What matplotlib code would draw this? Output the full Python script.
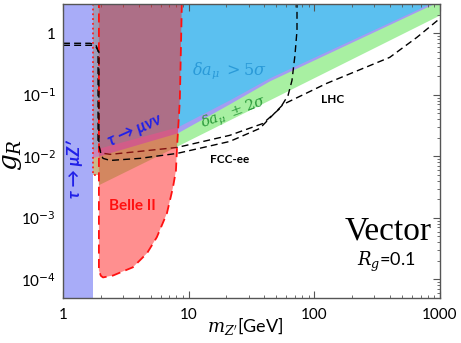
import numpy as np
import matplotlib
matplotlib.use('Agg')
import matplotlib.pyplot as plt

plt.rcParams['font.family'] = ['Lato', 'DejaVu Sans']
plt.rcParams['mathtext.fontset'] = 'dejavuserif'

########## Data ##########
# FCC-ee projection (dashed)
m_fcc = [1.0, 1.64, 1.83, 1.90, 1.90, 1.97, 2.12, 2.37, 4.1, 8.1, 21.2, 39.0, 53.3, 61.8, 66.4, 70.1, 72.8, 72.8]
g_fcc = [0.69, 0.69, 0.64, 0.53, 0.018, 0.0125, 0.0112, 0.0108, 0.0121, 0.014, 0.022, 0.0343, 0.0604, 0.0982, 0.172, 0.439, 1.12, 4.0]

# LHC projection (dashed)
m_lhc = [1.0, 1.70, 1.83, 1.93, 1.93, 2.01, 2.08, 2.37, 4.1, 8.1, 21.2, 36.8, 56.4, 125.5, 398, 655, 1000]
g_lhc = [0.64, 0.64, 0.60, 0.50, 0.015, 0.0108, 0.0093, 0.0086, 0.0093, 0.0112, 0.0175, 0.0285, 0.070, 0.154, 0.407, 0.861, 1.75]

# Belle II reach
m_belle = [1.93, 1.93, 2.0, 2.08, 2.5, 3.6, 4.66, 5.58, 6.71, 7.49, 7.92, 8.08, 8.5, 8.85]
g_belle = [4.0, 1.4e-4, 1.15e-4, 1.08e-4, 1.16e-4, 1.58e-4, 2.67e-4, 4.87e-4, 1.19e-3, 3.1e-3, 5.9e-3, 0.014, 0.08, 4.0]

# delta a_mu > 5 sigma (lower edge)
m_5sig = [1.72, 8.2, 21.3, 44.4, 831, 1000]
g_5sig = [0.0125, 0.0296, 0.0814, 0.186, 2.96, 3.55]

# tau -> mu nu nu strip (lower edge)
m_tau3 = [1.72, 8.2, 21.3, 44.4, 1000]
g_tau3 = [0.0093, 0.0237, 0.0701, 0.166, 3.3]

# delta a_mu +- 2 sigma (lower edge)
m_2sig = [1.93, 8.5, 1000]
g_2sig = [0.0034, 0.0151, 1.95]

# tau -> mu Z' and tau -> mu nu nu column
m_tau = 1.74
m_col = [1.72, 1.93]
g_col_min = 0.005

g_top = 4.0
xlim = (1, 1000)
ylim = (5e-5, 3.0)

########## Figure ##########
fig = plt.figure(figsize=(4.61, 3.43), dpi=100)
ax = fig.add_axes([0.1367, 0.1312, 0.8177, 0.8571])
ax.set_xscale('log'); ax.set_yscale('log')
ax.set_xlim(*xlim); ax.set_ylim(*ylim)

##### coloured bands #####
gm = [m_col[0], m_2sig[0]] + m_2sig + [m_2sig[-1], m_col[0]]
gg = [g_col_min, g_col_min] + g_2sig + [g_top, g_top]
ax.fill(gm, gg, color='#a8f0a2', lw=0, zorder=1)
ax.fill(m_tau3 + [m_tau3[-1], m_tau3[0]], g_tau3 + [g_top, g_top], color='#a49cf2', lw=0, zorder=1.1)
ax.fill(m_5sig + [m_5sig[-1], m_5sig[0]], g_5sig + [g_top, g_top], color='#5bc0f0', lw=0, zorder=1.2)

# tau -> mu Z'
ax.axvspan(xlim[0], m_tau, color='#a8acf8', lw=0, zorder=2)

# tau -> mu nu nu column
ax.fill([m_col[0], m_col[1], m_col[1], m_col[0]], [g_col_min, g_col_min, g_top, g_top],
        color='#ff6666', alpha=0.4, lw=0, zorder=3)
ax.plot([m_col[0], m_col[0], m_col[1]], [g_top, g_col_min, g_col_min], color='#ff2020',
        ls=':', lw=1.3, zorder=3.1)

# FCC-ee (under Belle II)
ax.plot(m_fcc, g_fcc, color='black', ls=(0, (5, 3)), lw=1.0, zorder=4)

# Belle II
ax.fill(m_belle, g_belle, color='#ff2020', alpha=0.5, lw=0, zorder=5)
ax.plot(m_belle, g_belle, color='#ff1010', ls=(0, (5, 3)), lw=1.3, zorder=5.1)

# LHC
ax.plot(m_lhc, g_lhc, color='black', ls=(0, (5, 3)), lw=1.0, zorder=6)

##### labels #####
ax.text(1.24, 0.0062, "τ → μZ′", rotation=90, color='#2020e8', fontsize=12.5,
        fontweight='bold', style='italic', ha='center', va='center', zorder=7)
ax.text(3.7, 0.027, "τ → μνν", rotation=24, color='#2020e8', fontsize=12,
        fontweight='bold', style='italic', ha='center', va='center', zorder=7)
ax.text(3.54, 0.00154, "Belle II", color='#ff1010', fontsize=11, fontweight='bold',
        ha='center', va='center', zorder=7)
ax.text(21.3, 0.25, r"$\delta a_\mu\ > 5\sigma$", color='#2a9ad8', fontsize=11.5,
        ha='center', va='center', zorder=7)
ax.text(22.9, 0.05, r"$\delta a_\mu\ \pm 2\sigma$", color='#2a9a3a', fontsize=10.5,
        rotation=20, ha='center', va='center', zorder=7)
ax.text(140, 0.0845, "LHC", color='black', fontsize=8.5, fontweight='bold',
        ha='center', va='center', zorder=7)
ax.text(21.3, 0.0089, "FCC-ee", color='black', fontsize=8.5, fontweight='bold',
        ha='center', va='center', zorder=7)
ax.text(0.979, 0.228, "Vector", transform=ax.transAxes, fontsize=24,
        family='Liberation Serif', ha='right', va='center', zorder=7)
ax.text(0.857, 0.122, r"$R_g$=0.1", transform=ax.transAxes, fontsize=13,
        ha='center', va='center', zorder=7)

##### axes #####
xt = [1, 10, 100, 1000]
ax.set_xticks(xt)
ax.set_xticklabels(['1', '10', '100', '1000'])
yt = [1e-4, 1e-3, 1e-2, 1e-1, 1]
ax.set_yticks(yt)
ax.set_yticklabels([r'10$^{\mathsf{-4}}$', r'10$^{\mathsf{-3}}$', r'10$^{\mathsf{-2}}$',
                    r'10$^{\mathsf{-1}}$', '1'])
ax.tick_params(which='both', direction='in', top=True, right=True, color='#555555')
ax.tick_params(which='major', length=5, labelsize=11)
ax.tick_params(axis='x', which='major', pad=7)
ax.tick_params(axis='y', which='major', pad=5)
ax.tick_params(which='minor', length=2.5)
for s in ax.spines.values():
    s.set_color('#555555'); s.set_linewidth(1.0); s.set_zorder(8)

fig.text(12/461, 1-155/343, r"$g_R$", fontsize=19, rotation=90, ha='center', va='center')
fig.text(245/461, 1-326/343, r"$m_{Z'}$[GeV]", fontsize=13, ha='center', va='center')

fig.savefig('out.png', dpi=100)
